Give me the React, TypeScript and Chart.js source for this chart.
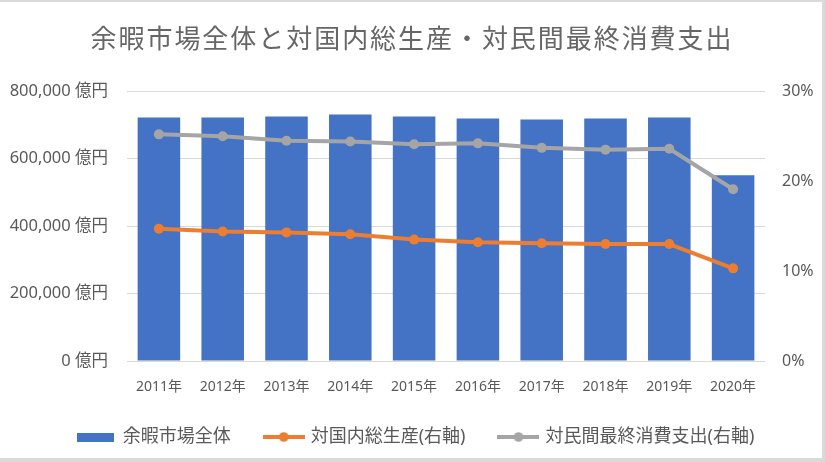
import React, { useEffect, useRef } from "react";
import { Chart, registerables } from "chart.js";

Chart.register(...registerables);

const categories = ["2011年", "2012年", "2013年", "2014年", "2015年", "2016年", "2017年", "2018年", "2019年", "2020年"];
const marketValues = [722000, 722000, 725000, 731000, 725000, 719000, 716000, 719000, 722000, 551000];
const gdpRatio = [14.7, 14.4, 14.3, 14.1, 13.5, 13.2, 13.1, 13.0, 13.0, 10.3];
const consumptionRatio = [25.2, 25.0, 24.5, 24.4, 24.1, 24.2, 23.7, 23.5, 23.6, 19.1];
const seriesLabels = ["余暇市場全体", "対国内総生産(右軸)", "対民間最終消費支出(右軸)"];
const titleText = "余暇市場全体と対国内総生産・対民間最終消費支出";

const BLUE = "#4472C4";
const ORANGE = "#ED7D31";
const GRAY = "#A5A5A5";
const TEXT = "#595959";
const FONT = "'Noto Sans', 'Noto Sans CJK JP', sans-serif";

function makeBoxMarker(color: string): HTMLCanvasElement {
  const c = document.createElement("canvas");
  c.width = 37;
  c.height = 9;
  const ctx = c.getContext("2d")!;
  ctx.fillStyle = color;
  ctx.fillRect(0, 0, 37, 9);
  return c;
}

function makeLineMarker(color: string): HTMLCanvasElement {
  const c = document.createElement("canvas");
  c.width = 42;
  c.height = 10;
  const ctx = c.getContext("2d")!;
  ctx.strokeStyle = color;
  ctx.lineWidth = 4;
  ctx.beginPath();
  ctx.moveTo(0, 5);
  ctx.lineTo(42, 5);
  ctx.stroke();
  ctx.fillStyle = color;
  ctx.beginPath();
  ctx.arc(21, 5, 4.8, 0, Math.PI * 2);
  ctx.fill();
  return c;
}

export default function App() {
  const canvasRef = useRef<HTMLCanvasElement | null>(null);

  useEffect(() => {
    document.body.style.margin = "0";
    const canvas = canvasRef.current;
    if (!canvas) return;
    const markers = [makeBoxMarker(BLUE), makeLineMarker(ORANGE), makeLineMarker(GRAY)];

    const boxTweaksPlugin = {
      id: "boxTweaks",
      beforeLayout(chart: any) {
        const lg = chart.legend;
        if (lg && !lg.__patched) {
          const origFit = lg.fit;
          lg.fit = function () {
            origFit.call(this);
            this.height = 65;
          };
          const origDraw = lg.draw;
          lg.draw = function (...args: any[]) {
            const ctx = this.ctx;
            ctx.save();
            ctx.translate(5, 0);
            origDraw.apply(this, args);
            ctx.restore();
          };
          lg.__patched = true;
        }
        const tb = chart.titleBlock;
        if (tb && !tb.__patched) {
          const origDraw = tb.draw;
          tb.draw = function (...args: any[]) {
            const ctx = this.ctx;
            ctx.save();
            (ctx as any).letterSpacing = "1.95px";
            ctx.translate(1, 0);
            origDraw.apply(this, args);
            ctx.restore();
          };
          tb.__patched = true;
        }
      },
    };

    const chart = new Chart(canvas, {
      type: "bar",
      data: {
        labels: categories,
        datasets: [
          {
            type: "bar",
            label: seriesLabels[0],
            data: marketValues,
            backgroundColor: BLUE,
            borderWidth: 0,
            barPercentage: 0.667,
            categoryPercentage: 1,
            yAxisID: "y",
            order: 2,
          },
          {
            type: "line",
            label: seriesLabels[1],
            data: gdpRatio,
            borderColor: ORANGE,
            backgroundColor: ORANGE,
            borderWidth: 4,
            pointRadius: 5,
            pointBorderWidth: 0,
            pointBackgroundColor: ORANGE,
            borderJoinStyle: "round",
            tension: 0,
            yAxisID: "y1",
            order: 0,
          },
          {
            type: "line",
            label: seriesLabels[2],
            data: consumptionRatio,
            borderColor: GRAY,
            backgroundColor: GRAY,
            borderWidth: 4,
            pointRadius: 5,
            pointBorderWidth: 0,
            pointBackgroundColor: GRAY,
            borderJoinStyle: "round",
            tension: 0,
            yAxisID: "y1",
            order: 1,
          },
        ] as any,
      },
      options: {
        responsive: false,
        animation: false,
        layout: { padding: 0 },
        plugins: {
          title: {
            display: true,
            text: titleText,
            color: "#666666",
            font: { family: FONT, size: 26, weight: "normal" },
            padding: { top: 22.5, bottom: 35.5 },
          },
          legend: {
            display: true,
            position: "bottom",
            labels: {
              usePointStyle: true,
              pointStyleWidth: 36,
              padding: 35,
              color: TEXT,
              font: { family: FONT, size: 18 },
              generateLabels: (ch: any) =>
                ch.data.datasets.map((ds: any, i: number) => ({
                  text: ds.label,
                  pointStyle: markers[i],
                  fillStyle: "rgba(0,0,0,0)",
                  strokeStyle: "rgba(0,0,0,0)",
                  lineWidth: 0,
                  hidden: false,
                  datasetIndex: i,
                  fontColor: TEXT,
                })),
            },
          },
          tooltip: { enabled: false },
        },
        scales: {
          x: {
            type: "category",
            grid: { display: false, drawTicks: false },
            border: { display: false },
            ticks: {
              color: TEXT,
              font: { family: FONT, size: 14 },
              padding: 18,
              maxRotation: 0,
              autoSkip: false,
            },
            afterFit: (s: any) => {
              s.height = 32;
            },
          },
          y: {
            type: "linear",
            position: "left",
            min: 0,
            max: 800000,
            grid: { color: "#D9D9D9", lineWidth: 1, drawTicks: false },
            border: { display: false },
            ticks: {
              stepSize: 200000,
              color: TEXT,
              font: { family: FONT, size: 16.5 },
              padding: 19,
              callback: (v: any) => Number(v).toLocaleString("en-US") + " 億円",
            },
            afterFit: (s: any) => {
              s.width = 127;
            },
          },
          y1: {
            type: "linear",
            position: "right",
            min: 0,
            max: 30,
            grid: { display: false, drawTicks: false },
            border: { display: false },
            ticks: {
              stepSize: 10,
              color: TEXT,
              font: { family: FONT, size: 16 },
              padding: 17,
              callback: (v: any) => Math.round(Number(v)) + "%",
            },
            afterFit: (s: any) => {
              s.width = 57;
            },
          },
        },
      } as any,
      plugins: [boxTweaksPlugin],
    });

    return () => {
      chart.destroy();
    };
  }, []);

  return (
    <div style={{ position: "relative", width: 825, height: 462, background: "#D9D9D9", overflow: "hidden" }}>
      <div style={{ position: "absolute", left: 0, top: 2, width: 822, height: 456, background: "#FFFFFF" }}>
        <canvas ref={canvasRef} width={822} height={456} style={{ display: "block" }} />
      </div>
    </div>
  );
}
